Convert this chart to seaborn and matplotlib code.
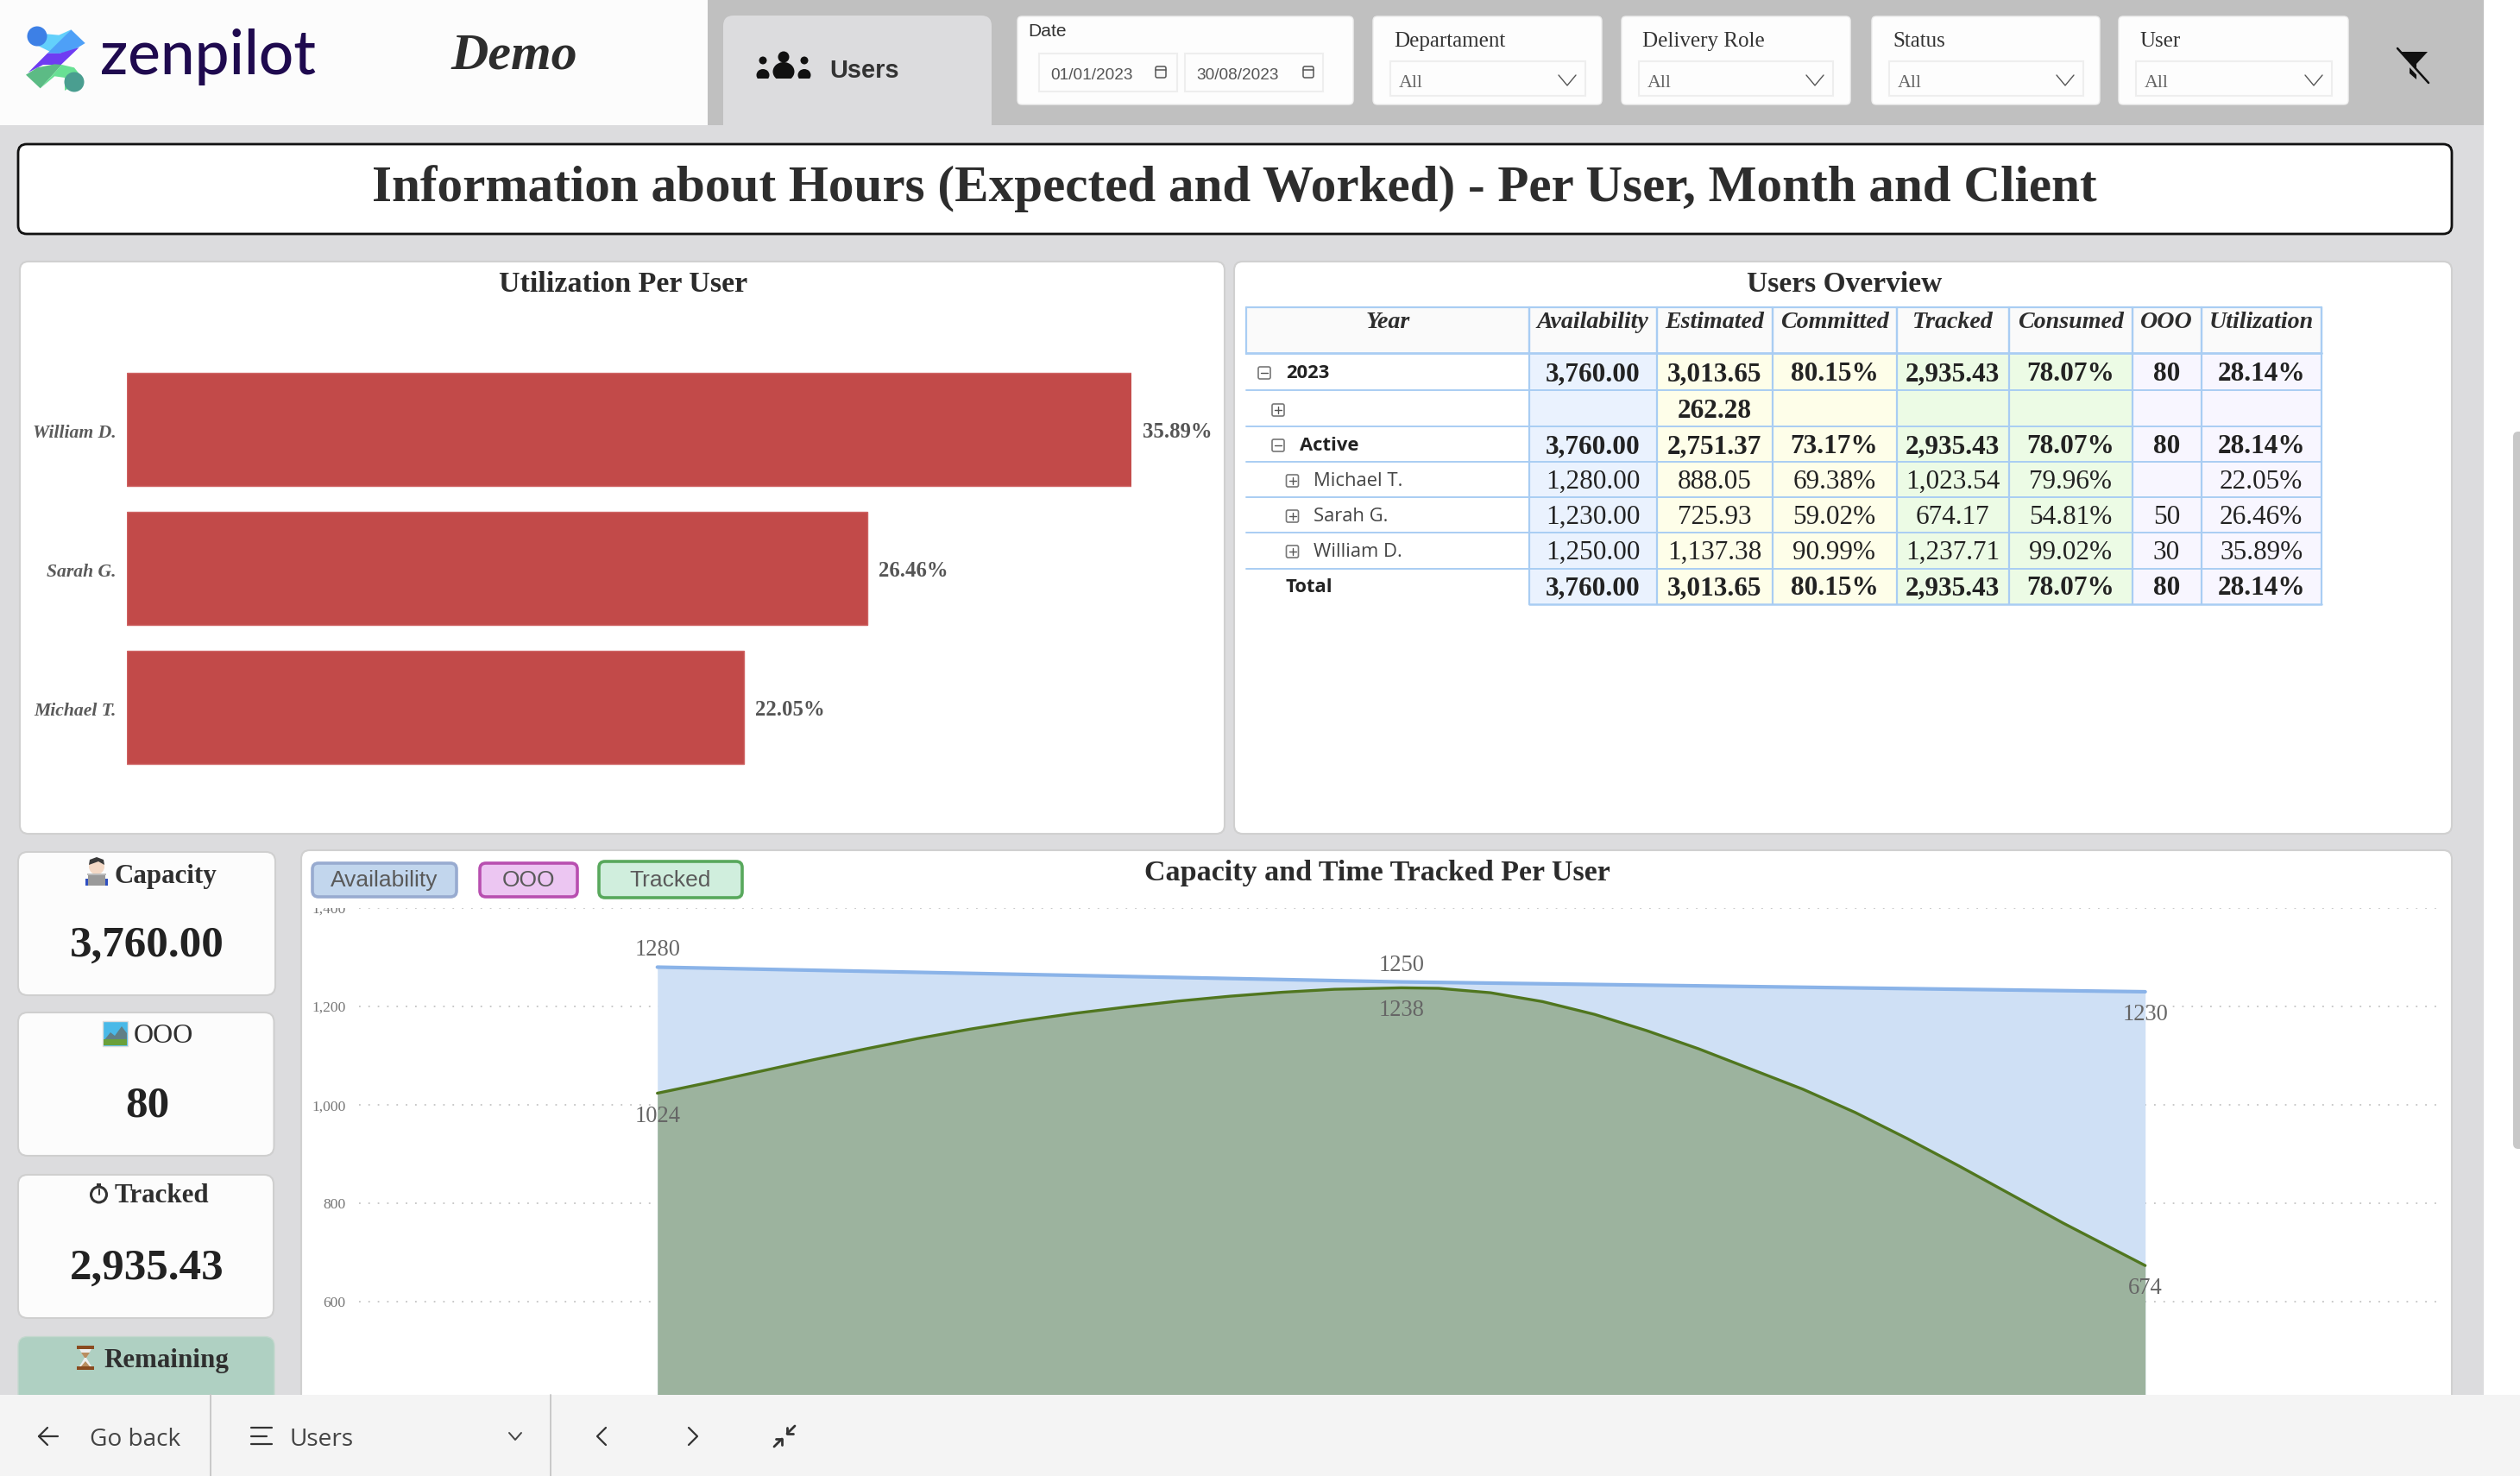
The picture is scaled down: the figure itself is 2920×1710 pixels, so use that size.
import numpy as np
import pandas as pd
import matplotlib
matplotlib.use("Agg")
import matplotlib.pyplot as plt
import seaborn as sns
from matplotlib.patches import FancyBboxPatch, Rectangle, Circle, Polygon, Ellipse
from matplotlib.transforms import Bbox, TransformedBbox, ScaledTranslation

# ---------- data ----------
bar_users = ["William D.", "Sarah G.", "Michael T."]
bar_util = [35.89, 26.46, 22.05]

area_users = ["Michael T.", "William D.", "Sarah G."]
area_availability = [1280, 1250, 1230]
area_tracked_labels = [1024, 1238, 674]
# Tracked curve (position along the user axis, hours)
tracked_pos = [0, .07, .14, .21, .28, .35, .42, .49, .56, .63, .70, .77, .84, .91, 1.0,
               1.05, 1.12, 1.19, 1.26, 1.33, 1.40, 1.47, 1.54, 1.61, 1.68, 1.75, 1.82, 1.89, 2.0]
tracked_val = [1024, 1046, 1069, 1092, 1114, 1135, 1154, 1171, 1186, 1199, 1211, 1221, 1229, 1235, 1238,
               1237, 1228, 1210, 1184, 1151, 1114, 1073, 1032, 985, 932, 876, 818, 760, 674]
y_ticks = [600, 800, 1000, 1200, 1400]

table_headers = ["Availability", "Estimated", "Committed", "Tracked", "Consumed", "OOO", "Utilization"]
table_rows = ["2023", "", "Active", "Michael T.", "Sarah G.", "William D.", "Total"]
col_availability = ["3,760.00", "", "3,760.00", "1,280.00", "1,230.00", "1,250.00", "3,760.00"]
col_estimated = ["3,013.65", "262.28", "2,751.37", "888.05", "725.93", "1,137.38", "3,013.65"]
col_committed = ["80.15%", "", "73.17%", "69.38%", "59.02%", "90.99%", "80.15%"]
col_tracked = ["2,935.43", "", "2,935.43", "1,023.54", "674.17", "1,237.71", "2,935.43"]
col_consumed = ["78.07%", "", "78.07%", "79.96%", "54.81%", "99.02%", "78.07%"]
col_ooo = ["80", "", "80", "", "50", "30", "80"]
col_utilization = ["28.14%", "", "28.14%", "22.05%", "26.46%", "35.89%", "28.14%"]

kpi_capacity = "3,760.00"
kpi_ooo = "80"
kpi_tracked = "2,935.43"
date_from = "01/01/2023"
date_to = "30/08/2023"
filter_labels = ["Departament", "Delivery Role", "Status", "User"]

# ---------- setup ----------
W, H = 2920, 1710
sns.set_theme(style="white")
SERIF = "Liberation Serif"
SANS = "Liberation Sans"
UI = "Open Sans"
plt.rcParams["font.family"] = [SERIF, "DejaVu Sans"]
fig = plt.figure(figsize=(W / 100, H / 100), dpi=100, facecolor="white")

def pxaxes(z):
    a = fig.add_axes([0, 0, 1, 1], zorder=z)
    a.set_xlim(0, W)
    a.set_ylim(H, 0)
    a.axis("off")
    a.patch.set_alpha(0)
    return a

def axrect(x0, y0, x1, y1, z=2):
    a = fig.add_axes([x0 / W, 1 - y1 / H, (x1 - x0) / W, (y1 - y0) / H], zorder=z)
    a.patch.set_alpha(0)
    return a

bg = pxaxes(0)
top = pxaxes(5)

def rect(a, x0, y0, x1, y1, fc, ec="none", lw=0, z=1):
    a.add_patch(Rectangle((x0, y0), x1 - x0, y1 - y0, fc=fc, ec=ec, lw=lw, zorder=z))

def rbox(a, x0, y0, x1, y1, fc, ec="none", lw=0, r=10, z=1):
    a.add_patch(FancyBboxPatch((x0, y0), x1 - x0, y1 - y0,
                               boxstyle=f"round,pad=0,rounding_size={r}",
                               fc=fc, ec=ec, lw=lw, zorder=z))

def T(a, x, y, s, px, family=SERIF, weight="normal", style="normal", color="#333333",
      ha="center", va="center", z=4):
    yy = y + 0.09 * px if va == "center" else y
    a.text(x, yy, s, fontsize=px * 0.72, family=[family, "DejaVu Sans"], weight=weight, style=style,
           color=color, ha=ha, va=va, zorder=z)

def L(a, xs, ys, color="#444444", lw=1.5, z=4):
    a.plot(xs, ys, color=color, lw=lw, zorder=z, solid_capstyle="round")

def P(a, pts, color, z=3, alpha=None):
    a.add_patch(Polygon(pts, closed=True, fc=color, ec="none", zorder=z, alpha=alpha))

def chev(a, x, y, w=10, h=6, color="#555555", lw=1.0):
    L(a, [x - w, x, x + w], [y - h, y + h, y - h], color=color, lw=lw)

# ---------- page background ----------
rect(bg, 0, 0, 2878, H, "#dcdcde")
rect(bg, 820, 0, 2878, 145, "#c0c0c0")
rect(bg, 0, 0, 820, 145, "#fcfcfc")
rbox(bg, 838, 18, 1149, 162, "#dcdcde", r=12, z=2)
rbox(bg, 2912, 500, 2930, 1331, "#c8c8c8", r=6, z=1)

# logo
def zp(pts):
    return [(x / 3, y / 3 + 10) for x, y in pts]
P(bg, zp([(128, 62), (160, 88), (205, 92), (247, 73), (175, 150), (130, 128)]), "#63d0fb")
P(bg, zp([(247, 73), (296, 120), (255, 145), (205, 156), (165, 155)]), "#4ea0f7")
P(bg, zp([(165, 155), (205, 156), (275, 135), (212, 195), (150, 195), (98, 222)]), "#6f3cf2")
P(bg, zp([(90, 230), (130, 205), (190, 193), (215, 195), (140, 277)]), "#5cbb85")
P(bg, zp([(215, 195), (258, 205), (290, 245), (225, 285), (225, 240), (190, 235), (140, 277)]), "#68e094")
bg.add_patch(Circle((43, 42), 11.5, fc="#3d80e6", ec="none", zorder=4))
bg.add_patch(Circle((86, 95), 11.5, fc="#4a9e90", ec="none", zorder=4))
T(bg, 116, 86, "zenpilot", 71, family="Lato", weight="medium", color="#1f0a4f", ha="left", va="baseline")
T(bg, 596, 60, "Demo", 60, weight="bold", style="italic", color="#2d2d2d")

# tab
for cx, cy, r, w, h in [(884, 70, 4.5, 12, 14), (908, 66, 6.5, 20, 22), (932, 70, 4.5, 12, 14)]:
    bg.add_patch(Circle((cx, cy), r, fc="#111111", ec="none", zorder=4))
    bg.add_patch(Ellipse((cx, 91 - h / 2 + 3), w * 1.25, h, fc="#111111", ec="none", zorder=4))
rect(bg, 875, 91, 942, 96, "#dcdcde", z=5)
T(bg, 961, 79, "Users", 29, family=SANS, weight="bold", color="#333333", ha="left")

# filter cards
rbox(bg, 1179, 19, 1568, 121, "#fdfdfd", ec="#eeeeee", lw=1, r=5)
T(bg, 1191, 35, "Date", 21, family=SANS, ha="left")
for x0, x1, s, ic in [(1204, 1364, date_from, 1345), (1373, 1533, date_to, 1516)]:
    rect(bg, x0, 62, x1, 106, "#fdfdfd", ec="#eeeeee", lw=1.5, z=2)
    T(bg, x0 + 13, 86, s, 19, family=SANS, ha="left", color="#555555")
    rbox(bg, ic - 6, 77, ic + 6, 90, "#f8f8f8", ec="#555555", lw=1.1, r=2, z=3)
    L(bg, [ic - 6, ic + 6], [81, 81], color="#555555", lw=1.1)

cards = [(1591, 1856, 1611, 1837, 1615.5), (1879, 2144, 1898.5, 2124, 1903),
         (2169, 2433, 2189, 2414, 2193), (2455, 2721, 2475, 2702, 2479.5)]
for (cx0, cx1, bx0, bx1, lx), lab in zip(cards, filter_labels):
    rbox(bg, cx0, 19, cx1, 121, "#fdfdfd", ec="#eeeeee", lw=1, r=5)
    T(bg, lx, 46, lab, 25, color="#333333", ha="left")
    rect(bg, bx0, 71, bx1, 111, "#fdfdfd", ec="#eeeeee", lw=1.5, z=2)
    T(bg, bx0 + 10, 95, "All", 22, color="#666666", ha="left")
    chev(bg, bx1 - 21, 93, w=10, h=6)

# clear-filter icon
P(bg, [(2776, 60), (2813, 60), (2800, 74), (2800, 92), (2792, 85), (2792, 74)], "#111111")
L(bg, [2776, 2812], [58, 96], color="#c0c0c0", lw=3.2, z=4)
L(bg, [2778, 2814], [56, 96], color="#111111", lw=1.8, z=5)

# ---------- title ----------
rbox(bg, 21, 167, 2841, 271, "#ffffff", ec="#111111", lw=2, r=10)
T(bg, 1430, 213, "Information about Hours (Expected and Worked) - Per User, Month and Client", 59.1,
  weight="bold", color="#2d2d2d")

# ---------- utilisation card ----------
rbox(bg, 23, 303, 1419, 966, "#ffffff", ec="#d0d0d0", lw=1.5, r=10)
T(bg, 722, 326, "Utilization Per User", 34, weight="bold", color="#2b2b2b")

ax = axrect(147, 417, 1311, 900)
df_bar = pd.DataFrame({"user": bar_users, "util": bar_util})
sns.barplot(data=df_bar, y="user", x="util", orient="h", color="#c24a49", saturation=1,
            width=131 / 161, ax=ax, edgecolor="#cf6464", linewidth=1)
ax.set_xlim(0, max(bar_util))
ax.set_ylim(2.5, -0.5)
ax.set_xlabel("")
ax.set_ylabel("")
ax.set_xticks([])
sns.despine(ax=ax, left=True, bottom=True)
ax.tick_params(axis="y", length=0, pad=9)
for lab in ax.get_yticklabels():
    lab.set_fontsize(21.7 * 0.72)
    lab.set_fontstyle("italic")
    lab.set_fontweight("bold")
    lab.set_color("#5a5a5a")
    lab.set_family([SERIF, "DejaVu Sans"])
    lab.set_verticalalignment("center_baseline")
    lab.set_transform(lab.get_transform() + ScaledTranslation(0, -2 / 100, fig.dpi_scale_trans))
for i, v in enumerate(bar_util):
    ax.annotate(f"{v:.2f}%", (v, i), xytext=(9.5, -2.2), textcoords="offset points", va="center", ha="left",
                fontsize=24.7 * 0.72, weight="bold", color="#555555", annotation_clip=False,
                family=[SERIF, "DejaVu Sans"])

# ---------- overview card + table ----------
rbox(bg, 1430, 303, 2841, 966, "#ffffff", ec="#d0d0d0", lw=1.5, r=10)
T(bg, 2137, 326, "Users Overview", 33.5, weight="bold", color="#2b2b2b")

col_x = [1444, 1771.5, 1920, 2053.5, 2197.5, 2328, 2470.5, 2550.5, 2690]
row_y = [411, 452, 494, 535, 576, 617, 659, 700]
row_c = [431, 474, 515, 556, 597, 638, 679]
col_fill = ["#eaf2fe", "#fefee9", "#fefee9", "#ecfbe5", "#ecfbe5", "#f8f6ff", "#f8f6ff"]
columns = [col_availability, col_estimated, col_committed, col_tracked, col_consumed, col_ooo, col_utilization]
GRID = "#a9cdf3"
rect(bg, col_x[0], 356, col_x[-1], 410, "#fafafa", z=2)
for i, h in enumerate(table_headers):
    rect(bg, col_x[i + 1], row_y[0], col_x[i + 2], row_y[-1], col_fill[i], z=2)
    T(bg, (col_x[i + 1] + col_x[i + 2]) / 2, 371, h, 28, weight="bold", style="italic", color="#2d2d2d")
T(bg, (col_x[0] + col_x[1]) / 2, 371, "Year", 28, weight="bold", style="italic", color="#2d2d2d")
for x in col_x:
    L(bg, [x, x], [356, 410], color=GRID, lw=1.6, z=3)
for x in col_x[1:]:
    L(bg, [x, x], [356, row_y[-1]], color=GRID, lw=1.6, z=3)
L(bg, [col_x[0], col_x[-1]], [356, 356], color=GRID, lw=1.6, z=3)
L(bg, [col_x[0], col_x[-1]], [409, 409], color=GRID, lw=2, z=3)
for y in row_y[1:-1]:
    L(bg, [col_x[0], col_x[-1]], [y, y], color=GRID, lw=1.4, z=3)
L(bg, [col_x[1], col_x[-1]], [row_y[-1], row_y[-1]], color=GRID, lw=1.8, z=3)

bold_rows = {0, 1, 2, 6}
for j, col in enumerate(columns):
    cx = (col_x[j + 1] + col_x[j + 2]) / 2
    for i, s in enumerate(col):
        if s:
            T(bg, cx, row_c[i], s, 31.3, weight="bold" if i in bold_rows else "normal", color="#222222")

label_x = [1490, None, 1506.5, 1522, 1522, 1522, 1490]
icon_x = [1465, 1481, 1481, 1497.5, 1497.5, 1497.5, None]
icon_minus = [True, False, True, False, False, False, False]
for i, s in enumerate(table_rows):
    if s:
        T(bg, label_x[i], row_c[i], s, 22, family=UI, weight="bold" if i in bold_rows else "normal",
          color="#222222" if i in bold_rows else "#444444", ha="left")
    if icon_x[i] is not None:
        ix, iy = icon_x[i], row_c[i] + 1
        rbox(bg, ix - 7, iy - 7, ix + 7, iy + 7, "#ffffff", ec="#777777", lw=1.2, r=2, z=3)
        L(bg, [ix - 4, ix + 4], [iy, iy], color="#555555", lw=1)
        if not icon_minus[i]:
            L(bg, [ix, ix], [iy - 4, iy + 4], color="#555555", lw=1)

# ---------- KPI cards ----------
kpis = [(21, 319, 987, 1153, "#fcfcfc"), (21, 317.5, 1173, 1339, "#fcfcfc"), (21, 317, 1361, 1527, "#fcfcfc")]
for x0, x1, y0, y1, fc in kpis:
    rbox(bg, x0, y0, x1, y1, fc, ec="#cfcfcf", lw=1.5, r=11)
rbox(bg, 21, 1548.5, 318, 1700, "#afd0c2", ec="#c4d8ce", lw=1, r=11)

T(bg, 133, 1012.5, "Capacity", 31, weight="bold", color="#2f2f2f", ha="left")
T(bg, 170.5, 1091, kpi_capacity, 51, weight="bold", color="#222222")
T(bg, 155, 1198, "OOO", 32, color="#2f2f2f", ha="left", weight="normal")
T(bg, 170.5, 1277, kpi_ooo, 51, weight="bold", color="#222222")
T(bg, 133, 1383, "Tracked", 31, weight="bold", color="#2f2f2f", ha="left")
T(bg, 170, 1465, kpi_tracked, 51, weight="bold", color="#222222")
T(bg, 120.5, 1574, "Remaining", 31, weight="bold", color="#2f2f2f", ha="left")

# emoji stand-ins drawn as shapes
bg.add_patch(Circle((112, 1004), 9, fc="#f4d9c6", ec="none", zorder=4))
bg.add_patch(Polygon([(103, 1002), (104, 996), (112, 993), (120, 996), (121, 1002), (114, 998)],
                     fc="#3a3a3a", ec="none", zorder=5))
rect(bg, 99, 1018, 125, 1026, "#2f4fc0", z=4)
rect(bg, 102, 1012, 122, 1026, "#9a9a9a", z=5)
rect(bg, 101, 1012, 123, 1014, "#bdbdbd", z=5)
# landscape
rect(bg, 119, 1183, 148, 1212, "#49b9e8", ec="#dddddd", lw=1, z=4)
P(bg, [(120, 1206), (128, 1196), (133, 1200), (141, 1189), (147, 1197), (147, 1206)], "#607f86", z=5)
rect(bg, 120, 1204, 147, 1211, "#6aa03a", z=6)
# stopwatch
bg.add_patch(Circle((114.5, 1384), 9, fc="#fcfcfc", ec="#333333", lw=2.2, zorder=4))
rect(bg, 112, 1371, 117, 1375, "#333333", z=4)
L(bg, [114.5, 114.5], [1384, 1378], color="#333333", lw=1.4, z=5)
# hourglass
rect(bg, 89, 1559, 109, 1563, "#8a4b20", z=5)
rect(bg, 89, 1583, 109, 1587, "#8a4b20", z=5)
P(bg, [(92, 1563), (106, 1563), (100, 1573), (106, 1583), (92, 1583), (98, 1573)], "#eeeeee", z=4)
P(bg, [(94, 1567), (104, 1567), (100, 1573), (98, 1573)], "#b98d60", z=5)
P(bg, [(94, 1583), (99, 1577), (104, 1583)], "#b98d60", z=5)

# ---------- area chart card ----------
rbox(bg, 349, 985, 2841, 1700, "#ffffff", ec="#d0d0d0", lw=1.5, r=10)
T(bg, 1596, 1008, "Capacity and Time Tracked Per User", 34, weight="bold", color="#2b2b2b")
rbox(bg, 362, 1000, 529, 1039, "#c2d6ed", ec="#98abd0", lw=2.6, r=7)
T(bg, 445.5, 1018, "Availability", 26.4, family=SANS, color="#5a5a5a")
rbox(bg, 556, 1000, 669, 1039, "#ecc6f2", ec="#b84fb0", lw=2.6, r=7)
T(bg, 612.5, 1018, "OOO", 26.4, family=SANS, color="#5a5a5a")
rbox(bg, 694, 998, 860, 1040, "#d0eedd", ec="#58a85c", lw=2.6, r=7)
T(bg, 777, 1018, "Tracked", 26.4, family=SANS, color="#5a5a5a")

YTOP, YBOT = 1052, 1616
y_low = 1400 - (YBOT - YTOP) / 0.5705
ac = axrect(416, YTOP, 2830, YBOT)
pos3 = [0, 1, 2]
ac.fill_between(pos3, area_availability, y_low, color="#cfe0f5", lw=0, zorder=2)
ac.fill_between(tracked_pos, tracked_val, y_low, color="#9cb39e", lw=0, zorder=3)
sns.lineplot(x=pos3, y=area_availability, color="#8ab3e8", lw=3, ax=ac, zorder=4, errorbar=None)
sns.lineplot(x=tracked_pos, y=tracked_val, color="#50761f", lw=2.4, ax=ac, zorder=5, errorbar=None)
ac.set_xlim(-345.7 / 862, 2068.3 / 862)
ac.set_ylim(y_low, 1400)
ac.set_xticks([])
ac.set_yticks(y_ticks)
ac.set_yticklabels([f"{v:,}" for v in y_ticks])
ac.yaxis.grid(True, color="#c4c4c4", ls=(0, (1, 5)), lw=1.3, zorder=1)
ac.set_axisbelow(True)
sns.despine(ax=ac, left=True, bottom=True)
ac.tick_params(axis="y", length=0, pad=11, labelsize=17.5 * 0.72, labelcolor="#777777")
clip = TransformedBbox(Bbox([[0, (H - YBOT) / H], [1, (H - YTOP) / H]]), fig.transFigure)
for lab in ac.get_yticklabels():
    lab.set_clip_box(clip)
    lab.set_clip_on(True)
for i, v in enumerate(area_availability):
    dy = [-20, -19, 27][i]
    ac.annotate(str(v), (i, v), xytext=(0, -dy * 0.72), textcoords="offset points", ha="center", va="center",
                fontsize=26.5 * 0.72, color="#666666", annotation_clip=False, zorder=6)
for i, v in enumerate(area_tracked_labels):
    dy = [27, 26, 26][i]
    ac.annotate(str(v), (i, v), xytext=(0, -dy * 0.72), textcoords="offset points", ha="center", va="center",
                fontsize=26.5 * 0.72, color="#666666", annotation_clip=False, zorder=6)

# ---------- bottom bar ----------
rect(top, 0, 1616, W, H, "#f4f4f4", z=1)
L(top, [244, 244], [1616, H], color="#c8c8c8", lw=1.4)
L(top, [638, 638], [1616, H], color="#c8c8c8", lw=1.4)
T(top, 104.5, 1665, "Go back", 28, family=UI, color="#444444", ha="left")
T(top, 336, 1665, "Users", 28, family=UI, color="#444444", ha="left")
L(top, [45, 67], [1664, 1664], color="#333333", lw=1.6)
L(top, [55, 45, 55], [1654, 1664, 1674], color="#333333", lw=1.6)
L(top, [291, 315], [1654, 1654], color="#333333", lw=1.6)
L(top, [291, 309], [1664, 1664], color="#333333", lw=1.6)
L(top, [291, 315], [1673, 1673], color="#333333", lw=1.6)
chev(top, 597, 1664, w=7, h=4, color="#444444", lw=1.4)
L(top, [702, 692, 702], [1654, 1664, 1674], color="#333333", lw=1.6)
L(top, [798, 808, 798], [1654, 1664, 1674], color="#333333", lw=1.6)
L(top, [897, 906], [1676, 1667], color="#333333", lw=2)
L(top, [899, 906, 906], [1667, 1667, 1674], color="#333333", lw=2)
L(top, [921, 912], [1652, 1661], color="#333333", lw=2)
L(top, [912, 912, 919], [1654, 1661, 1661], color="#333333", lw=2)

fig.savefig("out.png", dpi=100)
